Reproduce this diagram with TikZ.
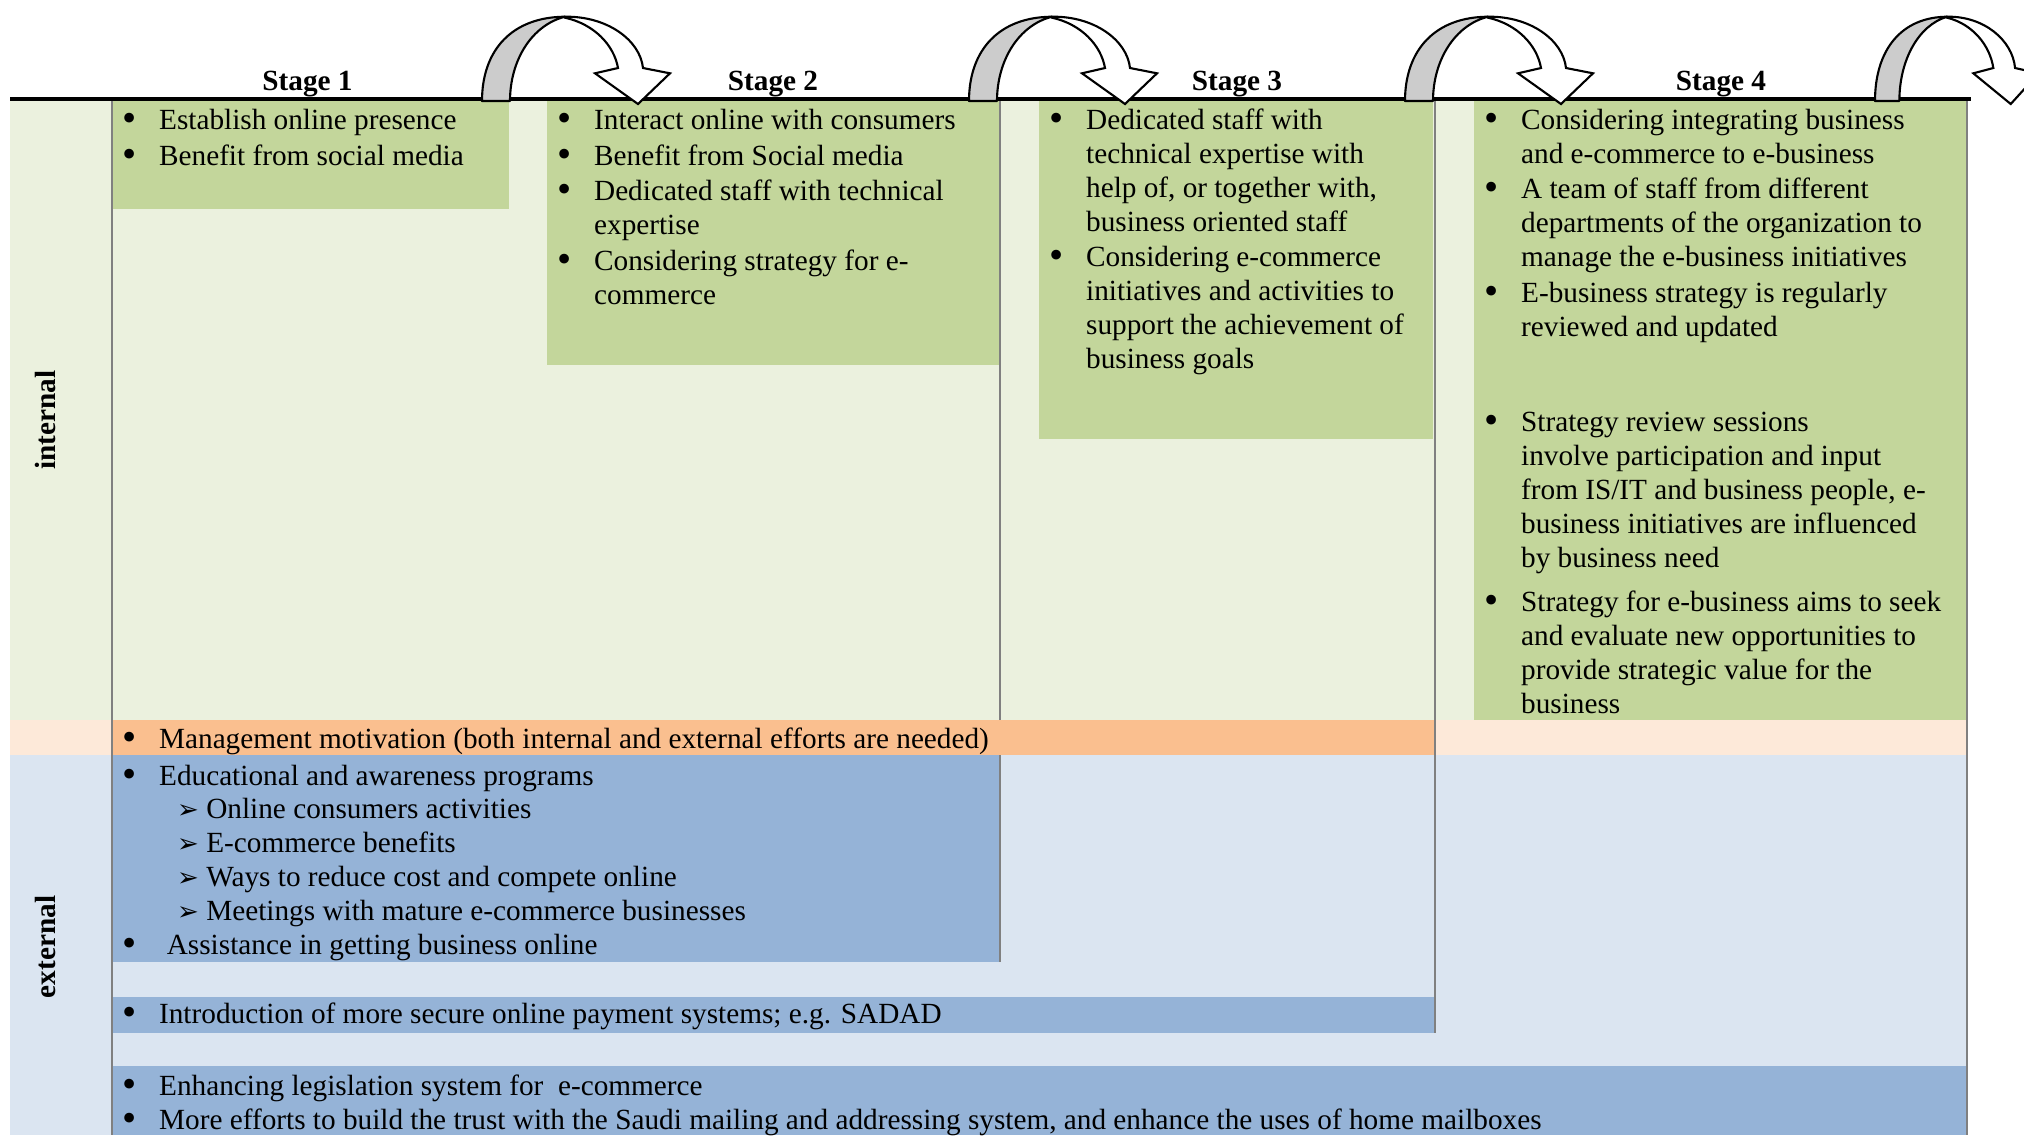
\documentclass[tikz,border=0pt]{standalone}
\usepackage{fontspec}
\setmainfont{Liberation Serif}
\newfontfamily\dejavu{DejaVu Sans}
\definecolor{intbg}{HTML}{EBF1DE}
\definecolor{grn}{HTML}{C3D69B}
\definecolor{peach}{HTML}{FDE9D9}
\definecolor{orng}{HTML}{FABF8F}
\definecolor{extbg}{HTML}{DBE5F1}
\definecolor{blu}{HTML}{95B3D7}
\definecolor{vline}{HTML}{808080}
\definecolor{arrgray}{HTML}{CCCCCC}
\newcommand\fs{\fontsize{8.32pt}{9.67pt}\selectfont}
\newcommand\bdot{{\fontsize{11.5pt}{11.5pt}\selectfont\raisebox{-0.6pt}{\textbullet}}}
\newcommand\bitem[1]{\makebox[13.2pt][l]{\hspace{2.9pt}\bdot}\begin{tabular}[t]{@{}l@{}}#1\end{tabular}}
\newcommand\sitem[1]{\makebox[8pt][l]{\hspace{-0.3pt}{\dejavu\fontsize{7.4pt}{7.4pt}\selectfont ➢}}#1}
\tikzset{
  txt/.style={inner sep=0pt, anchor=base west, font=\fs},
  stagelbl/.style={inner sep=0pt, anchor=base, font=\fs\bfseries},
  sidelbl/.style={inner sep=0pt, anchor=center, rotate=90, font=\fs\bfseries},
  gridline/.style={draw=vline, line width=0.75pt},
  uarrow/.pic={
    \filldraw[fill=arrgray, draw=black, line width=0.6pt, line join=round]
      (0,101) .. controls (0,50) and (30,17) .. (83,16.7)
      .. controls (50,25) and (28,60) .. (28,101) -- cycle;
    \filldraw[fill=white, draw=black, line width=0.6pt, line join=miter]
      (83,16.7) .. controls (125,16) and (158,40) .. (161,68)
      -- (188,73.3) -- (156,104) -- (113,73.3) -- (136,68)
      .. controls (132,45) and (112,24) .. (83,17.7) -- cycle;
  }
}
\begin{document}
\begin{tikzpicture}[x=0.01cm,y=-0.01cm]
\useasboundingbox (0,0) rectangle (2024,1135);
\clip (0,0) rectangle (2024,1135);
% backgrounds
\fill[intbg] (10,99) rectangle (1967,720);
\fill[peach] (10,720) rectangle (1967,755);
\fill[extbg] (10,755) rectangle (1967,1135);
% green boxes
\fill[grn] (112,99) rectangle (509,209);
\fill[grn] (547,99) rectangle (1000,365);
\fill[grn] (1039,99) rectangle (1433,439);
\fill[grn] (1474,99) rectangle (1967,720);
% orange and blue boxes
\fill[orng] (112,720) rectangle (1435,755);
\fill[blu] (112,755) rectangle (1000,962);
\fill[blu] (112,997) rectangle (1435,1033);
\fill[blu] (112,1066) rectangle (1967,1135);
% grid lines
\draw[gridline] (112,99) -- (112,1135);
\draw[gridline] (1000,99) -- (1000,720);
\draw[gridline] (1000,755) -- (1000,962);
\draw[gridline] (1435,99) -- (1435,1033);
\draw[gridline] (1967,99) -- (1967,1135);
\draw[line width=1.4pt] (10,99) -- (1971,99);
% arrows
\pic (a1) at (482,0) {uarrow};
\pic (a2) at (969,0) {uarrow};
\pic (a3) at (1405,0) {uarrow};
\pic[xscale=0.87] (a4) at (1875,0) {uarrow};
% stage labels
\node[stagelbl] (st1) at (307.5,90) {Stage 1};
\node[stagelbl] (st2) at (773,90) {Stage 2};
\node[stagelbl] (st3) at (1237,90) {Stage 3};
\node[stagelbl] (st4) at (1721,90) {Stage 4};
% side labels
\node[sidelbl] (int) at (45,420) {internal};
\node[sidelbl] (ext) at (45,947) {external};
% stage 1
\node[txt] (s1a) at (112,129.5) {\bitem{Establish online presence}};
\node[txt] (s1b) at (112,165) {\bitem{Benefit from social media}};
% stage 2
\node[txt] (s2a) at (547,129.5) {\bitem{Interact online with consumers}};
\node[txt] (s2b) at (547,165) {\bitem{Benefit from Social media}};
\node[txt] (s2c) at (547,200.5) {\bitem{Dedicated staff with technical\\expertise}};
\node[txt] (s2d) at (547,270) {\bitem{Considering strategy for e-\\commerce}};
% stage 3
\node[txt] (s3a) at (1039,129.5) {\bitem{Dedicated staff with\\technical expertise with\\help of, or together with,\\business oriented staff}};
\node[txt] (s3b) at (1039,266) {\bitem{Considering e-commerce\\initiatives and activities to\\support the achievement of\\business goals}};
% stage 4
\node[txt] (s4a) at (1474,129.5) {\bitem{Considering integrating business\\and e-commerce to e-business}};
\node[txt] (s4b) at (1474,198.5) {\bitem{A team of staff from different\\departments of the organization to\\manage the e-business initiatives}};
\node[txt] (s4c) at (1474,302) {\bitem{E-business strategy is regularly\\reviewed and updated}};
\node[txt] (s4d) at (1474,431.5) {\bitem{Strategy review sessions\\involve participation and input\\from IS/IT and business people, e-\\business initiatives are influenced\\by business need}};
\node[txt] (s4e) at (1474,611) {\bitem{Strategy for e-business aims to seek\\and evaluate new opportunities to\\provide strategic value for the\\business}};
% management
\node[txt] (mg) at (112,748) {\bitem{Management motivation (both internal and external efforts are needed)}};
% external
\node[txt] (e1) at (112,785) {\bitem{Educational and awareness programs}};
\node[txt] (e2) at (177.5,818.8) {\sitem{Online consumers activities}};
\node[txt] (e3) at (177.5,852.6) {\sitem{E-commerce benefits}};
\node[txt] (e4) at (177.5,886.4) {\sitem{Ways to reduce cost and compete online}};
\node[txt] (e5) at (177.5,920.2) {\sitem{Meetings with mature e-commerce businesses}};
\node[txt] (e6) at (112,954) {\makebox[15.4pt][l]{\hspace{2.9pt}\bdot}Assistance in getting business online};
\node[txt] (e7) at (112,1023) {\bitem{Introduction of more secure online payment systems; e.g. SADAD}};
\node[txt] (e8) at (112,1095) {\bitem{Enhancing legislation system for~ e-commerce}};
\node[txt] (e9) at (112,1129.5) {\bitem{More efforts to build the trust with the Saudi mailing and addressing system, and enhance the uses of home mailboxes}};
\end{tikzpicture}
\end{document}
